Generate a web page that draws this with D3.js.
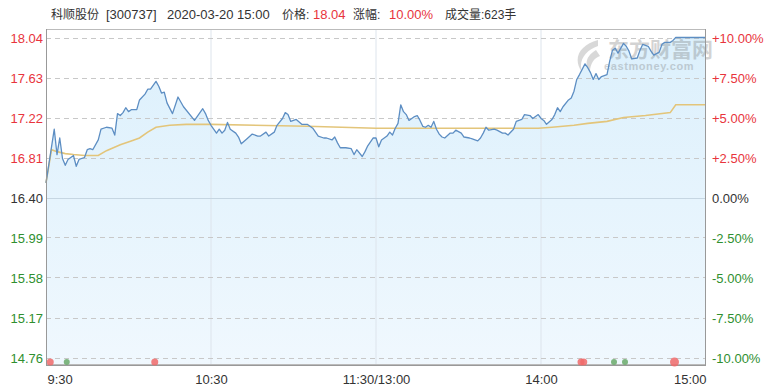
<!DOCTYPE html>
<html>
<head>
<meta charset="utf-8">
<script src="https://cdn.jsdelivr.net/npm/d3@7"></script>
<style>
html,body{margin:0;padding:0;background:#fff;}
svg{display:block;font-family:Arial,"Liberation Sans","Noto Sans CJK SC",sans-serif;}
</style>
</head>
<body>
<svg id="chart" width="770" height="387"></svg>
<script>
// ---- data ----
const priceMinutes = [0,3,4,5,6,7,8,10,11,12,14,15,16,17,19,20,22,24,25,26,27,28,29,30,31,33,34,36,37,38,40,41,42,43,44,46,48,50,54,57,58,59,60,62,63,64,65,66,67,69,70,71,73,75,77,78,80,81,83,84,86,87,88,89,90,91,93,95,97,99,101,102,104,105,106,107,109,111,112,113,115,116,117,119,120,121,122,124,125,126,127,128,129,130,131,132,134,135,136,137,138,139,140,141,142,143,144,145,147,148,149,151,152,154,155,157,158,159,160,161,163,164,166,167,168,170,171,173,174,176,177,179,180,181,182,184,185,186,187,188,190,191,192,193,194,196,197,198,199,200,201,202,204,205,206,207,208,210,211,212,213,215,216,217,219,220,221,223,224,225,227,228,229,240];
const prices = [16.55,17.10,16.84,17.01,16.80,16.73,16.79,16.83,16.72,16.79,16.81,16.89,16.90,16.89,16.99,17.10,17.12,17.11,17.04,17.26,17.24,17.27,17.32,17.28,17.30,17.30,17.40,17.46,17.51,17.51,17.59,17.54,17.47,17.48,17.37,17.26,17.43,17.33,17.19,17.31,17.26,17.19,17.14,17.06,17.10,17.06,17.09,17.17,17.10,17.06,17.02,16.95,17.00,17.05,17.03,17.03,17.07,17.03,17.07,17.14,17.21,17.27,17.25,17.18,17.19,17.20,17.15,17.15,17.11,17.03,17.01,17.01,16.99,17.02,16.96,16.91,16.91,16.90,16.84,16.89,16.82,16.87,16.93,17.01,17.01,16.92,16.99,17.03,17.07,17.04,17.11,17.16,17.35,17.28,17.25,17.19,17.23,17.24,17.19,17.13,17.12,17.14,17.12,17.18,17.10,17.05,17.02,17.01,17.06,17.06,17.09,17.06,17.02,17.01,17.00,16.98,17.01,17.06,17.12,17.09,17.10,17.09,17.06,17.06,17.04,17.10,17.18,17.20,17.25,17.24,17.21,17.25,17.21,17.19,17.15,17.20,17.25,17.32,17.28,17.33,17.40,17.42,17.49,17.61,17.66,17.77,17.73,17.68,17.61,17.67,17.61,17.64,17.66,17.80,17.91,17.93,17.88,17.98,17.95,17.90,17.82,17.83,17.91,17.97,17.95,17.90,17.86,17.89,17.97,17.99,17.99,18.01,18.04,18.04];
const avgMinutes = [0,2,4,7,10,14,19,22,27,31,34,37,40,45,51,60,95,120,179,184,192,197,204,210,218,227,229,240];
const avgPrices = [16.55,16.89,16.87,16.85,16.84,16.83,16.83,16.88,16.94,16.98,17.01,17.07,17.12,17.14,17.15,17.15,17.13,17.11,17.11,17.12,17.14,17.16,17.18,17.22,17.24,17.27,17.35,17.35];
const priceTicks = [18.04,17.63,17.22,16.81,16.40,15.99,15.58,15.17,14.76];
const pctTicks = ["+10.00%","+7.50%","+5.00%","+2.50%","0.00%","-2.50%","-5.00%","-7.50%","-10.00%"];
const timeTickMinutes = [0,60,120,180,240];
const timeLabels = ["9:30","10:30","11:30/13:00","14:00","15:00"];
const dotMinutes = [1,7,39,194,195,206,210,228];
const dotKinds = ["up","down","up","up","up","down","down","up"];
const dotSizes = [3.5,3,3.5,3.5,3.5,3,3,4.5];
const prevClose = 16.40;

// ---- layout ----
const L = 46, R = 706, T = 29, B = 365;
const FS = 13;
const svg = d3.select("#chart");
const x = d3.scaleLinear().domain([0,240]).range([L,R]);
const y = d3.scaleLinear().domain([14.76,18.04]).range([357.5,37.5]);
const RED = "#e8343c", GREEN = "#2f8f2f", GRAY = "#333";
const colorFor = v => v > prevClose + 1e-6 ? RED : (v < prevClose - 1e-6 ? GREEN : GRAY);

// gradient
const defs = svg.append("defs");
const grad = defs.append("linearGradient").attr("id","fillg").attr("x1",0).attr("y1",0).attr("x2",0).attr("y2",1);
grad.append("stop").attr("offset","0%").attr("stop-color","#dcf0fc");
grad.append("stop").attr("offset","100%").attr("stop-color","#f0f8fe");

// header
const header = [
  {t:"科顺股份", x:51, c:GRAY, s:12},
  {t:"[300737]", x:106, c:GRAY, s:13},
  {t:"2020-03-20 15:00", x:167, c:GRAY, s:13},
  {t:"价格:", x:282, c:GRAY, s:12},
  {t:"18.04", x:313, c:RED, s:13},
  {t:"涨幅:", x:353, c:GRAY, s:12},
  {t:"10.00%", x:389, c:RED, s:13},
  {t:"成交量:623手", x:445, c:GRAY, s:12}
];
svg.selectAll("text.hdr").data(header).enter().append("text")
  .attr("class","hdr").attr("x",d=>d.x).attr("y",19)
  .attr("font-size",d=>d.s).attr("fill",d=>d.c).text(d=>d.t);

// area fill
const area = d3.area().x((d,i)=>x(priceMinutes[i])).y0(B).y1((d)=>y(d));
svg.append("path").datum(prices).attr("d",area).attr("fill","url(#fillg)");

// vertical grid
svg.selectAll("line.vg").data(timeTickMinutes.slice(1,4)).enter().append("line")
  .attr("x1",d=>x(d)).attr("x2",d=>x(d)).attr("y1",T).attr("y2",B)
  .attr("stroke","#dde4ec").attr("stroke-width",1);

// horizontal grid
svg.selectAll("line.hg").data(priceTicks).enter().append("line")
  .attr("x1",L).attr("x2",R).attr("y1",d=>Math.round(y(d))+0.5).attr("y2",d=>Math.round(y(d))+0.5)
  .attr("stroke",d=>Math.abs(d-prevClose)<1e-6?"#c6d6e2":"#c8c8c8")
  .attr("stroke-dasharray",d=>Math.abs(d-prevClose)<1e-6?null:"5,4")
  .attr("stroke-width",1);

// watermark
const wm = svg.append("g").attr("opacity",0.28);
wm.append("text").attr("x",608).attr("y",57).attr("font-size",21).attr("fill","#666").attr("font-weight","bold").text("东方财富网");
wm.append("text").attr("x",604).attr("y",70).attr("font-size",11).attr("fill","#666").attr("font-weight","bold").attr("letter-spacing",0.6).text("eastmoney.com");
wm.append("path").attr("d","M598,40 C580,45 572,58 582,72 C578,60 586,50 598,46 Z M596,50 C586,56 584,64 590,72 C590,64 594,58 600,56 Z").attr("fill","#777");

// avg line
const avgLine = d3.line().x((d,i)=>x(avgMinutes[i])).y(d=>y(d));
svg.append("path").datum(avgPrices).attr("d",avgLine).attr("fill","none")
  .attr("stroke","#e3c57a").attr("stroke-width",1.6);

// price line
const priceLine = d3.line().x((d,i)=>x(priceMinutes[i])).y(d=>y(d));
svg.append("path").datum(prices).attr("d",priceLine).attr("fill","none")
  .attr("stroke","#5d8ec3").attr("stroke-width",1.3).attr("stroke-linejoin","round");

// border
svg.append("rect").attr("x",L+0.5).attr("y",T+0.5).attr("width",R-L-1).attr("height",B-T-1)
  .attr("fill","none").attr("stroke","#bbb");
svg.append("line").attr("x1",L+0.5).attr("x2",L+0.5).attr("y1",T).attr("y2",B+1).attr("stroke","#999");
svg.append("line").attr("x1",L).attr("x2",R).attr("y1",B+0.5).attr("y2",B+0.5).attr("stroke","#999");
svg.append("line").attr("x1",R-0.5).attr("x2",R-0.5).attr("y1",T).attr("y2",B+1).attr("stroke","#999");

// dots
svg.selectAll("circle.dot").data(dotMinutes).enter().append("circle")
  .attr("cx",d=>x(d)+1.5).attr("cy",362).attr("r",(d,i)=>dotSizes[i])
  .attr("fill",(d,i)=>dotKinds[i]==="up"?"#f06a6a":"#6aaa6a").attr("opacity",0.85);

// left axis
const la = d3.axisLeft(y).tickValues(priceTicks).tickSize(0).tickPadding(3).tickFormat(d3.format(".2f"));
const gl = svg.append("g").attr("transform",`translate(${L},0)`).call(la);
gl.select(".domain").remove();
gl.selectAll("text").attr("font-size",FS).attr("font-family","Arial,'Liberation Sans',sans-serif")
  .attr("fill",d=>colorFor(d)).attr("dy","0.35em").attr("y",0);

// right axis
const ra = d3.axisRight(y).tickValues(priceTicks).tickSize(0).tickPadding(6).tickFormat((d,i)=>pctTicks[i]);
const gr = svg.append("g").attr("transform",`translate(${R},0)`).call(ra);
gr.select(".domain").remove();
gr.selectAll("text").attr("font-size",FS).attr("font-family","Arial,'Liberation Sans',sans-serif")
  .attr("fill",d=>colorFor(d)).attr("dy","0.35em").attr("y",0);

// bottom axis
const ba = d3.axisBottom(x).tickValues(timeTickMinutes).tickSize(0).tickPadding(0).tickFormat((d,i)=>timeLabels[i]);
const gb = svg.append("g").attr("transform",`translate(0,${B})`).call(ba);
gb.select(".domain").remove();
gb.selectAll("text").attr("font-size",FS).attr("font-family","Arial,'Liberation Sans',sans-serif")
  .attr("fill","#333").attr("dy",0).attr("y",19)
  .attr("text-anchor",(d,i)=>i===0?"start":(i===timeLabels.length-1?"end":"middle"))
  .attr("dx",(d,i)=>i===0?1:0);
</script>
</body>
</html>
